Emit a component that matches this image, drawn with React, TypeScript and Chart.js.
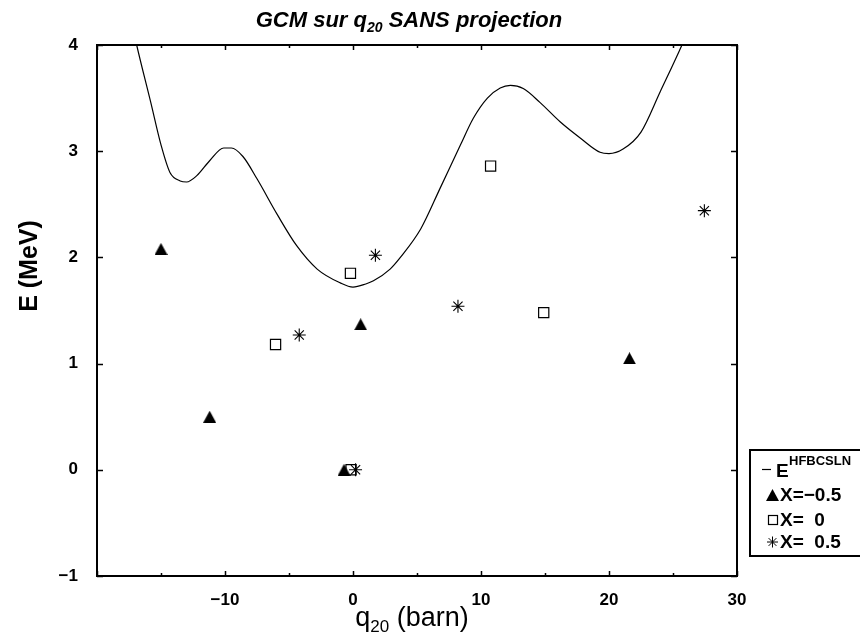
import React, { useEffect, useRef } from 'react';
import { Chart, registerables } from 'chart.js';
Chart.register(...registerables);

// HFB curve E^HFBCSLN (q20 in barn, E in MeV)
const curveQ = [-17.8, -16.9, -15.8, -15.0, -14.3, -13.5, -13.0, -12.2, -11.2, -10.1, -9.5, -8.6, -7.5, -5.9, -4.4, -2.8, -1.0, 0.0, 1.0, 1.6, 2.9, 3.7, 5.3, 6.8, 8.4, 9.4, 10.5, 11.5, 12.3, 13.3, 14.6, 16.2, 17.8, 19.3, 20.0, 21.1, 22.5, 24.0, 25.7, 26.4];
const curveE = [4.5, 4.0, 3.46, 3.06, 2.8, 2.72, 2.71, 2.77, 2.91, 3.03, 3.03, 2.95, 2.74, 2.4, 2.11, 1.89, 1.76, 1.72, 1.75, 1.78, 1.89, 2.0, 2.27, 2.65, 3.06, 3.31, 3.5, 3.595, 3.62, 3.59, 3.46, 3.275, 3.12, 2.99, 2.977, 3.02, 3.18, 3.56, 4.0, 4.2];

// X = -0.5
const triQ = [-15.0, -11.2, -0.7, 0.6, 21.6];
const triE = [2.08, 0.5, 0.0, 1.37, 1.05];
// X = 0
const sqQ = [-6.05, -0.2, -0.15, 10.75, 14.9];
const sqE = [1.18, 1.85, 0.0, 2.86, 1.48];
// X = 0.5
const stQ = [-4.2, 0.2, 1.75, 8.2, 27.45];
const stE = [1.27, 0.0, 2.02, 1.54, 2.44];

const xMajorTicks = [-20, -10, 0, 10, 20, 30];
const xMinorTicks = [-15, -5, 5, 15, 25];
const yTicks = [-1, 0, 1, 2, 3, 4];

const FONT = '"Liberation Sans", Arial, Helvetica, sans-serif';

const fmt = (v: number) => (v < 0 ? '\u2212' + Math.abs(v) : String(v));
const pts = (xs: number[], ys: number[]) => xs.map((x, i) => ({ x, y: ys[i] }));

function makeTriangle(): HTMLCanvasElement {
  const c = document.createElement('canvas');
  c.width = 13;
  c.height = 12;
  const g = c.getContext('2d')!;
  g.fillStyle = '#000';
  g.beginPath();
  g.moveTo(6.5, 0);
  g.lineTo(13, 12);
  g.lineTo(0, 12);
  g.closePath();
  g.fill();
  return c;
}

const decorPlugin = {
  id: 'decor',
  afterDraw(chart: any) {
    const ctx: CanvasRenderingContext2D = chart.ctx;
    const { left, right, top, bottom } = chart.chartArea;
    const xs = chart.scales.x;
    const ys = chart.scales.y;
    ctx.save();
    ctx.strokeStyle = '#000';
    ctx.fillStyle = '#000';
    // frame
    ctx.lineWidth = 2;
    ctx.strokeRect(left, top, right - left, bottom - top);
    // ticks
    ctx.lineWidth = 1.5;
    ctx.beginPath();
    const tickX = (v: number, len: number) => {
      const px = Math.round(xs.getPixelForValue(v)) + 0.5;
      ctx.moveTo(px, bottom);
      ctx.lineTo(px, bottom - len);
      ctx.moveTo(px, top);
      ctx.lineTo(px, top + len);
    };
    xMajorTicks.forEach((v) => tickX(v, 5));
    xMinorTicks.forEach((v) => tickX(v, 3));
    yTicks.forEach((v) => {
      const py = Math.round(ys.getPixelForValue(v)) + 0.5;
      ctx.moveTo(left, py);
      ctx.lineTo(left + 6, py);
      ctx.moveTo(right, py);
      ctx.lineTo(right - 6, py);
    });
    ctx.stroke();

    // title
    ctx.textBaseline = 'alphabetic';
    const tf = `italic bold 22px ${FONT}`;
    const tsf = `italic bold 14px ${FONT}`;
    const t1 = 'GCM sur q';
    const t2 = '20';
    const t3 = ' SANS projection';
    ctx.font = tf;
    const w1 = ctx.measureText(t1).width;
    const w3 = ctx.measureText(t3).width;
    ctx.font = tsf;
    const w2 = ctx.measureText(t2).width;
    let tx = 409 - (w1 + w2 + w3) / 2;
    const ty = 27;
    ctx.font = tf;
    ctx.textAlign = 'left';
    ctx.fillText(t1, tx, ty);
    tx += w1;
    ctx.font = tsf;
    ctx.fillText(t2, tx, ty + 5);
    tx += w2;
    ctx.font = tf;
    ctx.fillText(t3, tx, ty);

    // x title
    const xf = `27px ${FONT}`;
    const xsf = `17px ${FONT}`;
    ctx.font = xf;
    const a1 = ctx.measureText('q').width;
    const a3 = ctx.measureText(' (barn)').width;
    ctx.font = xsf;
    const a2 = ctx.measureText('20').width;
    let ax = 412 - (a1 + a2 + a3) / 2;
    const ay = 626;
    ctx.font = xf;
    ctx.fillText('q', ax, ay);
    ax += a1;
    ctx.font = xsf;
    ctx.fillText('20', ax, ay + 6);
    ax += a2;
    ctx.font = xf;
    ctx.fillText(' (barn)', ax, ay);

    // y title
    ctx.save();
    ctx.translate(30, 266);
    ctx.rotate(-Math.PI / 2);
    ctx.font = `bold 25px ${FONT}`;
    ctx.textAlign = 'center';
    ctx.textBaseline = 'middle';
    ctx.fillText('E (MeV)', 0, 0);
    ctx.restore();

    // legend
    ctx.lineWidth = 2;
    ctx.strokeRect(750, 450, 130, 106);
    ctx.textAlign = 'left';
    ctx.textBaseline = 'alphabetic';
    ctx.lineWidth = 1.2;
    ctx.beginPath();
    ctx.moveTo(762, 469.5);
    ctx.lineTo(771, 469.5);
    ctx.stroke();
    ctx.font = `bold 19px ${FONT}`;
    ctx.fillText('E', 776, 477);
    ctx.font = `bold 13px ${FONT}`;
    ctx.fillText('HFBCSLN', 789, 465);
    // triangle
    ctx.beginPath();
    ctx.moveTo(772.5, 489);
    ctx.lineTo(779, 501);
    ctx.lineTo(766, 501);
    ctx.closePath();
    ctx.fill();
    ctx.font = `bold 19px ${FONT}`;
    ctx.fillText('X=\u22120.5', 780, 501);
    // square
    ctx.lineWidth = 1.2;
    ctx.strokeRect(768.5, 515.5, 9, 9);
    ctx.fillText('X=  0', 780, 526);
    // star
    const sx = 772.5, sy = 542;
    const r = 5.5;
    ctx.lineWidth = 1;
    ctx.beginPath();
    for (let k = 0; k < 4; k++) {
      const ang = (k * Math.PI) / 4;
      ctx.moveTo(sx - r * Math.cos(ang), sy - r * Math.sin(ang));
      ctx.lineTo(sx + r * Math.cos(ang), sy + r * Math.sin(ang));
    }
    ctx.stroke();
    ctx.fillText('X=  0.5', 780, 548);
    ctx.restore();
  },
};

export default function App() {
  const ref = useRef<HTMLCanvasElement>(null);
  useEffect(() => {
    document.body.style.margin = '0';
    const tri = makeTriangle();
    const chart = new Chart(ref.current!, {
      type: 'scatter',
      data: {
        datasets: [
          {
            type: 'line',
            label: 'E^HFBCSLN',
            data: pts(curveQ, curveE),
            borderColor: '#000',
            borderWidth: 1.2,
            pointRadius: 0,
            fill: false,
            tension: 0.4,
            cubicInterpolationMode: 'monotone',
          } as any,
          {
            label: 'X=-0.5',
            data: pts(triQ, triE),
            pointStyle: tri as any,
            pointRadius: 7,
            backgroundColor: '#000',
            borderColor: '#000',
          },
          {
            label: 'X= 0',
            data: pts(sqQ, sqE),
            pointStyle: 'rect',
            pointRadius: 7.2,
            backgroundColor: 'rgba(255,255,255,0)',
            borderColor: '#000',
            borderWidth: 1.2,
          },
          {
            label: 'X= 0.5',
            data: pts(stQ, stE),
            pointStyle: 'star',
            pointRadius: 6.5,
            backgroundColor: '#000',
            borderColor: '#000',
            borderWidth: 1.1,
          },
        ],
      },
      options: {
        animation: false,
        responsive: false,
        devicePixelRatio: 1,
        events: [],
        layout: { padding: { top: 45, right: 123, left: 0, bottom: 0 } },
        plugins: { legend: { display: false }, tooltip: { enabled: false }, title: { display: false } },
        scales: {
          x: {
            type: 'linear',
            min: -20,
            max: 30,
            afterBuildTicks: (s: any) => {
              s.ticks = xMajorTicks.map((v) => ({ value: v }));
            },
            afterFit: (s: any) => {
              s.height = 59;
            },
            ticks: {
              autoSkip: false,
              maxRotation: 0,
              padding: 6,
              color: '#000',
              font: { family: FONT, size: 17, weight: 'bold' },
              callback: (v: any) => (v === -20 ? '' : fmt(Number(v))),
            },
            grid: { display: false },
            border: { display: false },
          },
          y: {
            type: 'linear',
            min: -1,
            max: 4,
            afterBuildTicks: (s: any) => {
              s.ticks = yTicks.map((v) => ({ value: v }));
            },
            afterFit: (s: any) => {
              s.width = 97;
            },
            ticks: {
              autoSkip: false,
              padding: 11,
              color: '#000',
              font: { family: FONT, size: 17, weight: 'bold' },
              callback: (v: any) => fmt(Number(v)),
            },
            grid: { display: false },
            border: { display: false },
          },
        },
      },
      plugins: [decorPlugin],
    });
    return () => chart.destroy();
  }, []);
  return (
    <div style={{ position: 'absolute', left: 0, top: 0, width: 860, height: 635, background: '#fff' }}>
      <canvas ref={ref} width={860} height={635} />
    </div>
  );
}
